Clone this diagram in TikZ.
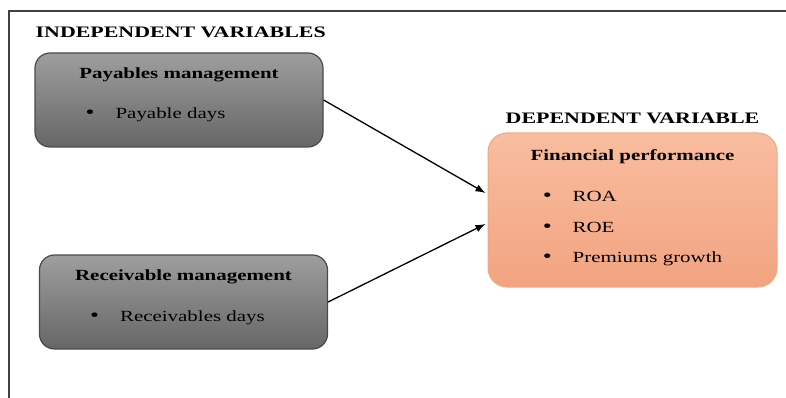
\documentclass[tikz,border=0pt]{standalone}
\usepackage{fontspec}
\setmainfont{Liberation Serif}
\usepackage{tikz}
\usetikzlibrary{calc, positioning, arrows.meta}

\definecolor{boxline}{HTML}{4A4A4A}
\definecolor{peachtop}{HTML}{F9BD9F}
\definecolor{peachbot}{HTML}{F2A381}
\definecolor{peachline}{HTML}{EDA883}

\newcommand{\bigbul}{{\fontsize{19}{18}\selectfont\textbullet}\hspace{15.5pt}}

\tikzset{
  varbox/.style={rounded corners=15pt, draw=boxline, line width=1.2pt,
    top color=black!38, bottom color=black!60, minimum width=288pt,
    minimum height=94pt, inner sep=0pt},
  depbox/.style={rounded corners=19pt, draw=peachline, line width=1pt,
    top color=peachtop, bottom color=peachbot, minimum width=289pt,
    minimum height=154pt, inner sep=0pt},
  head/.style={inner sep=0pt, xscale=1.37, font=\fontsize{16}{19}\selectfont\bfseries},
  boxtitle/.style={inner sep=0pt, xscale=1.35, anchor=base, font=\fontsize{15.5}{18}\selectfont\bfseries},
  item/.style={inner sep=0pt, xscale=1.35, anchor=base west,
    font=\fontsize{15.5}{18}\selectfont},
}

\begin{document}
\begin{tikzpicture}[>={Latex[length=10pt, width=7.5pt]}, x=1pt, y=-1pt]
    \useasboundingbox (0,0) rectangle (786,398);
    % frame
    \draw[line width=1.4pt, black!75] (786,11) -- (9,11) -- (9,398);

    % independent side
    \node[varbox] (pay) at (179,100) {};
    \node[varbox] (rec) at (183.5,302) {};
    \node[head, above right = 14pt and 1pt of pay.north west] (indep) {INDEPENDENT VARIABLES};

    \node[boxtitle] (pay-title) at ($(pay.north)+(0,26)$) {Payables management};
    \node[item] (pay-days) at ($(pay.north west)+(51,66)$) {\bigbul Payable days};

    \node[boxtitle] (rec-title) at ($(rec.north)+(0,26)$) {Receivable management};
    \node[item] (rec-days) at ($(rec.north west)+(51,67)$) {\bigbul Receivables days};

    % dependent side
    \node[depbox] (fin) at (632.5,210) {};
    \node[head, above = 9pt of fin.north] (dep) {DEPENDENT VARIABLE};
    \node[boxtitle] (fin-title) at ($(fin.north)+(0,28)$) {Financial performance};
    \node[item] (fin-roa) at ($(fin.north west)+(55,69)$) {\bigbul ROA};
    \node[item] (fin-roe) at ($(fin-roa.base west)+(0,31)$) {\bigbul ROE};
    \node[item] (fin-prem) at ($(fin-roe.base west)+(0,30)$) {\bigbul Premiums growth};

    \coordinate (in-pay) at ($(fin.west)+(-2,-17)$);
    \coordinate (in-rec) at ($(fin.west)+(-2,14)$);
    \draw[->, line width=1.3pt] (pay.east) -- (in-pay);
    \draw[->, line width=1.3pt] (rec.east) -- (in-rec);
\end{tikzpicture}
\end{document}
